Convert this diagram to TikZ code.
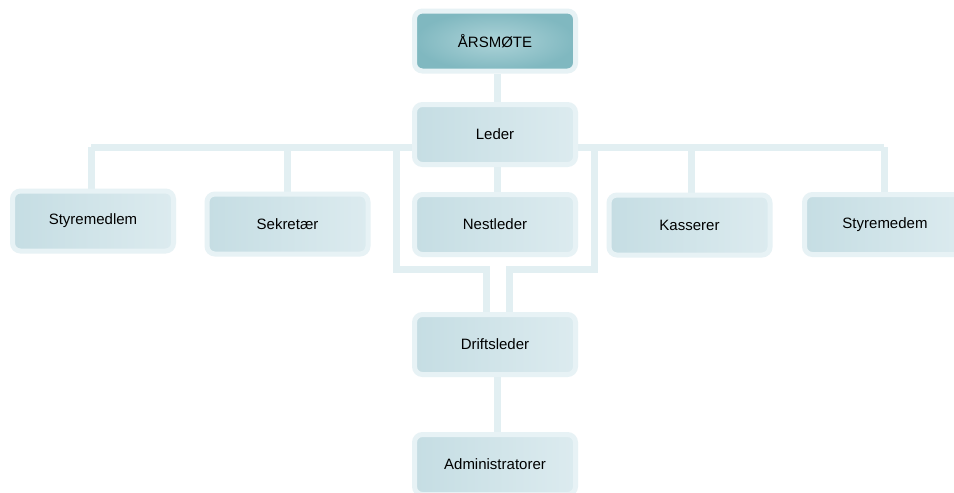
\documentclass[tikz,border=0pt]{standalone}
\usepackage{fontspec}
\setmainfont{Liberation Sans}
\usetikzlibrary{backgrounds}
\definecolor{halo}{HTML}{E7F2F5}
\definecolor{conn}{HTML}{E2EFF2}
\definecolor{boxL}{HTML}{C5DDE3}
\definecolor{boxR}{HTML}{DCEBEF}
\definecolor{topOut}{HTML}{80B8C0}
\definecolor{topIn}{HTML}{ADD3D8}
\tikzset{
  orgbox/.style={draw=halo, line width=5pt, rounded corners=8pt,
    minimum width=161pt, minimum height=60pt, inner sep=0pt,
    left color=boxL, right color=boxR, font=\fontsize{15}{18}\selectfont},
  topbox/.style={orgbox, shading=radial, inner color=topIn, outer color=topOut},
  link/.style={draw=conn, line width=7pt}
}
\begin{document}
\begin{tikzpicture}[x=1pt,y=-1pt]
\useasboundingbox (0,0) rectangle (954,493);
\node[topbox] (aars) at (495,41) {ÅRSMØTE};
\node[orgbox] (leder) at (495,134.5) {Leder};
\node[orgbox] (sty1) at (93,221) {Styremedlem};
\node[orgbox] (sekr) at (287.5,224) {Sekretær};
\node[orgbox] (nest) at (495,224.5) {Nestleder};
\node[orgbox] (kass) at (689.5,225) {Kasserer};
\node[orgbox] (sty2) at (885,224.5) {Styremedem};
\node[orgbox] (drift) at (495,344.5) {Driftsleder};
\node[orgbox] (adm) at (495,464.5) {Administratorer};
\coordinate (busL) at (91,147);
\coordinate (busR) at (884,147);
\coordinate (loopL) at (396,147);
\coordinate (loopR) at (594,147);
\begin{scope}[on background layer]
\fill[white] (0,0) rectangle (954,493);
\draw[link] (aars.south -| 497,0) -- (leder.north -| 497,0);
\draw[link] (busL) -- (busR);
\draw[link] (busL) -- (sty1.north -| busL);
\draw[link] (287,147) -- (sekr.north -| 287,0);
\draw[link] (leder.south -| 497,0) -- (nest.north -| 497,0);
\draw[link] (691,147) -- (kass.north -| 691,0);
\draw[link] (busR) -- (sty2.north -| busR);
\draw[link] (loopL) -- (396,269) -- (486,269) -- (drift.north -| 486,0);
\draw[link] (loopR) -- (594,269) -- (509,269) -- (drift.north -| 509,0);
\draw[link] (drift.south -| 497,0) -- (adm.north -| 497,0);
\end{scope}
\end{tikzpicture}
\end{document}
